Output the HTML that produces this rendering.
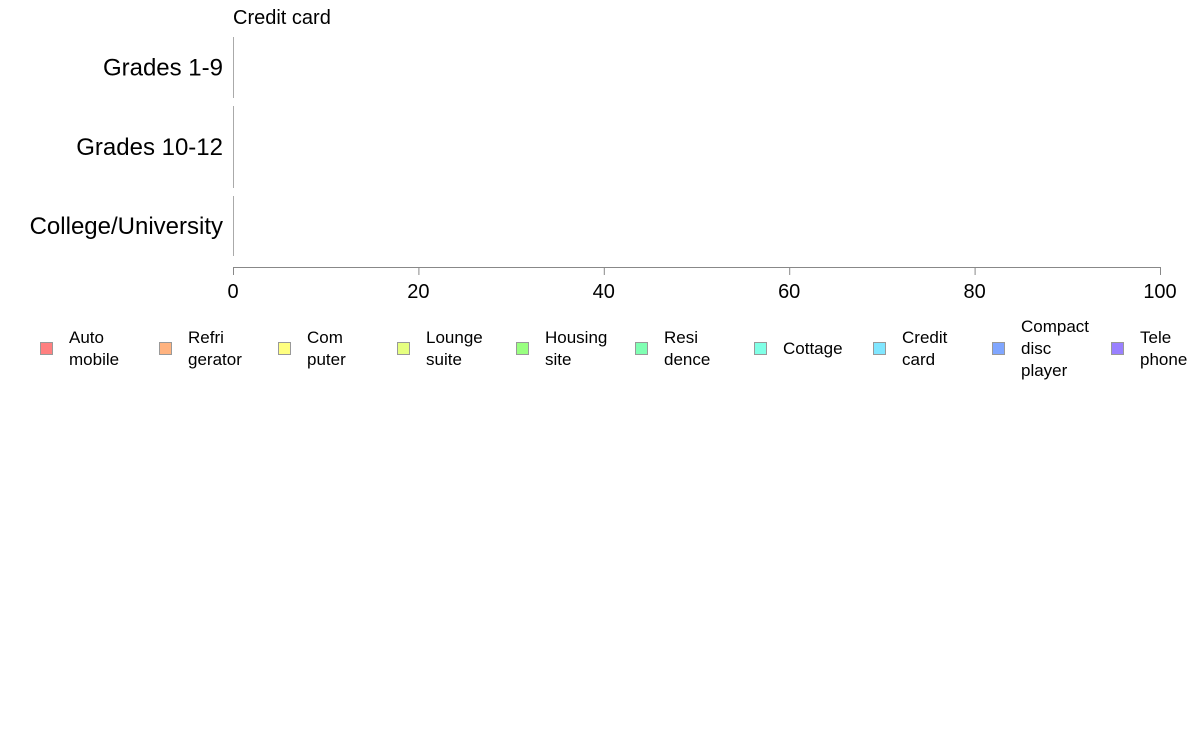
<!DOCTYPE html>
<html><head><meta charset="utf-8"><style>
html,body{margin:0;padding:0;background:#fff;}
svg{display:block;font-family:"Liberation Sans",Arial,sans-serif;}
</style></head><body>
<svg id="chart" width="1188" height="736"></svg>
<script>
const categories = ["Grades 1-9", "Grades 10-12", "College/University"];
const creditCardValues = [0, 0, 0];
const xTicks = [0, 20, 40, 60, 80, 100];
const legendLabels = [["Auto","mobile"],["Refri","gerator"],["Com","puter"],["Lounge","suite"],["Housing","site"],["Resi","dence"],["Cottage"],["Credit","card"],["Compact","disc","player"],["Tele","phone"]];
const legendColors = ["#ff8080","#ffb380","#ffff80","#e6ff80","#99ff80","#80ffb3","#80ffe6","#80e6ff","#80a6ff","#9980ff"];

const NS="http://www.w3.org/2000/svg";
const svg=document.getElementById('chart');
function mk(tag,attrs,text){const e=document.createElementNS(NS,tag);for(const k in attrs)e.setAttribute(k,attrs[k]);if(text!==undefined)e.textContent=text;svg.appendChild(e);return e;}
const X0=233,X1=1160;
const xs=v=>X0+(v-0)/(100-0)*(X1-X0);
const bands=[[37,98],[106,188],[196,256]];

let t=mk('text',{x:233,y:24,'font-size':20,fill:'#000'},'Credit card');



categories.forEach((c,i)=>{
  const [y0,y1]=bands[i];
  const l=mk('line',{x1:233.5,x2:233.5,y1:y0,y2:y1,stroke:'#aaa','stroke-width':1});
  
  
  const lb=mk('text',{x:223,y:(y0+y1)/2+8,'font-size':24,'text-anchor':'end',fill:'#000'},c);
  
  
  const v=creditCardValues[i];
  const h=(y1-y0)*0.6;
  const b=mk('rect',{x:xs(0),y:(y0+y1)/2-h/2,width:Math.max(0,xs(v)-xs(0)),height:h,fill:legendColors[7],stroke:'#666','stroke-width':v>0?0.5:0});
  
  
});

const ax=mk('line',{x1:X0,x2:X1,y1:267.5,y2:267.5,stroke:'#888','stroke-width':1});


xTicks.forEach(v=>{
  const tk=mk('line',{x1:xs(v)+0.5,x2:xs(v)+0.5,y1:267,y2:275,stroke:'#888','stroke-width':1});
  
  
  const tl=mk('text',{x:xs(v),y:298,'font-size':20,'text-anchor':'middle',fill:'#000'},String(v));
  
  
});

legendLabels.forEach((lines,i)=>{
  const sx=40+i*119;
  const r=mk('rect',{x:sx+0.5,y:342.5,width:12,height:12,fill:legendColors[i],stroke:'#999','stroke-width':1});
  
  
  const n=lines.length, lh=22;
  const firstBase=348+6-(n-1)*lh/2;
  lines.forEach((s,j)=>{
    const tx=mk('text',{x:sx+29,y:firstBase+j*lh,'font-size':17,fill:'#000'},s);
    
    
  });
});
</script>
</body></html>
